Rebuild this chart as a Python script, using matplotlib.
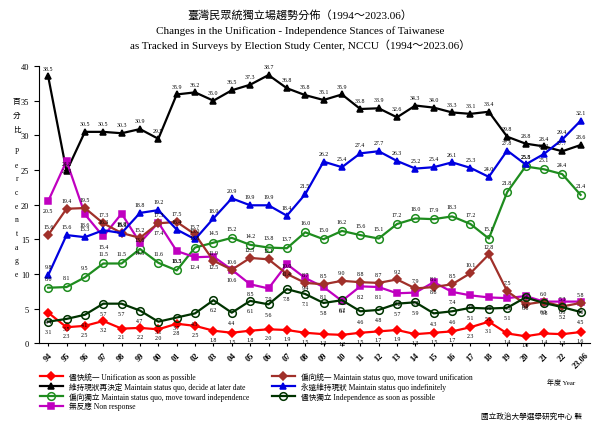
import numpy as np
import matplotlib.pyplot as plt

plt.rcParams["font.family"] = ["Liberation Serif", "Noto Sans CJK TC"]

years = ["94", "95", "96", "97", "98", "99", "00", "01", "02", "03", "04", "05", "06", "07", "08",
         "09", "10", "11", "12", "13", "14", "15", "16", "17", "18", "19", "20", "21", "22", "23.06"]

unif_asap = [4.4, 2.3, 2.5, 3.2, 2.1, 2.2, 2.0, 2.8, 2.5, 1.8, 1.5, 1.8, 2.0, 1.9, 1.5,
             1.3, 1.2, 1.5, 1.7, 1.9, 1.3, 1.5, 1.7, 2.3, 3.1, 1.4, 1.0, 1.4, 1.3, 1.6]
toward_unif = [15.6, 19.4, 19.5, 17.3, 15.9, 15.2, 17.3, 17.5, 15.7, 11.9, 10.6, 12.3, 12.1, 10.0, 8.7,
               8.5, 9.0, 8.8, 8.7, 9.2, 7.9, 8.1, 8.5, 10.1, 12.8, 7.5, 5.6, 6.0, 5.3, 5.8]
decide_later = [38.5, 24.8, 30.5, 30.5, 30.3, 30.9, 29.5, 35.9, 36.2, 35.0, 36.5, 37.3, 38.7, 36.8, 35.8,
                35.1, 35.9, 33.8, 33.9, 32.6, 34.3, 34.0, 33.3, 33.1, 33.4, 29.8, 28.8, 28.4, 27.7, 28.6]
indefinitely = [9.8, 15.6, 15.3, 16.3, 15.9, 18.8, 19.2, 16.4, 15.0, 18.0, 20.9, 19.9, 19.9, 18.4, 21.5,
                26.2, 25.4, 27.4, 27.7, 26.3, 25.2, 25.4, 26.1, 25.3, 24.0, 27.8, 25.8, 27.3, 29.4, 32.1]
toward_indep = [8.0, 8.1, 9.5, 11.5, 11.5, 13.6, 11.6, 10.5, 13.8, 14.5, 15.2, 14.2, 13.8, 13.7, 16.0,
                15.0, 16.2, 15.6, 15.1, 17.2, 18.0, 17.9, 18.3, 17.2, 15.1, 21.8, 25.5, 25.1, 24.4, 21.4]
indep_asap = [3.1, 3.5, 4.1, 5.7, 5.7, 4.7, 3.1, 3.7, 4.3, 6.2, 4.4, 6.1, 5.6, 7.8, 7.1,
              5.8, 6.2, 4.6, 4.8, 5.7, 5.9, 4.3, 4.6, 5.1, 5.0, 5.1, 6.6, 5.8, 5.2, 4.5]
non_resp = [20.5, 26.3, 18.6, 15.4, 18.7, 14.5, 17.4, 13.3, 12.4, 12.5, 10.6, 8.5, 7.9, 11.4, 9.4,
            8.1, 6.1, 8.2, 8.1, 7.2, 7.3, 8.8, 7.4, 6.9, 6.6, 6.5, 6.8, 6.0, 6.0, 6.0]

# label, values, color, marker, filled, label offset (pt)
series = [
    ("儘快統一 Unification as soon as possible", unif_asap, "#ff0000", "D", True, -6),
    ("維持現狀再決定 Maintain status quo, decide at later date", decide_later, "black", "^", True, 6),
    ("偏向獨立 Maintain status quo, move toward independence", toward_indep, "#1e8c1e", "o", False, 7),
    ("無反應 Non response", non_resp, "#c000c0", "s", True, -7),
    ("偏向統一 Maintain status quo, move toward unification", toward_unif, "#a0302a", "D", True, 6),
    ("永遠維持現狀 Maintain status quo indefinitely", indefinitely, "#0000e0", "^", True, 6),
    ("儘快獨立 Independence as soon as possible", indep_asap, "#003300", "o", False, -7),
]

fig = plt.figure(figsize=(6, 4.27), dpi=100)
ax = fig.add_axes([0.065, 0.194, 0.918, 0.649])
x = np.arange(len(years))

for lab, vals, col, mk, filled, off in series:
    ax.plot(x, vals, color=col, lw=1.6, marker=mk, ms=5.5 if mk == "o" else 4.2,
            mfc=col if filled else "none", mec=col, mew=1.1, label=lab)
    for xi, v in zip(x, vals):
        ax.annotate(f"{v:.1f}", (xi, v), xytext=(0, off), textcoords="offset points",
                    ha="center", va="center", fontsize=4.2)

ax.set_xlim(-0.5, 29.5)
ax.set_ylim(0, 40)
ax.set_yticks(range(0, 41, 5))
ax.set_xticks(x)
ax.set_xticklabels(years, rotation=45, fontsize=6, fontweight="bold")
ax.tick_params(axis="y", labelsize=6)
ax.tick_params(axis="x", length=2)
for sp in ["top", "right"]:
    ax.spines[sp].set_visible(False)

fig.text(0.5, 0.965, "臺灣民眾統獨立場趨勢分佈（1994～2023.06）", ha="center", va="center", fontsize=8)
fig.text(0.5, 0.928, "Changes in the Unification - Independence Stances of Taiwanese", ha="center", va="center", fontsize=8)
fig.text(0.5, 0.893, "as Tracked in Surveys by Election Study Center, NCCU（1994～2023.06）", ha="center", va="center", fontsize=8)

ylab = "百分比 Percentage"
chars = [c for c in ylab if c != " "]
for i, c in enumerate(chars):
    fig.text(0.028, 0.76 - i * 0.032 - (0.02 if i >= 3 else 0), c, ha="center", va="center", fontsize=5.5)

leg = fig.legend(loc="upper left", bbox_to_anchor=(0.06, 0.135), ncol=2, frameon=False,
                 fontsize=5.5, handlelength=3, labelspacing=0.15, columnspacing=3, borderpad=0)
fig.text(0.935, 0.105, "年度 Year", ha="center", va="center", fontsize=5)
fig.text(0.97, 0.025, "國立政治大學選舉研究中心 製", ha="right", va="center", fontsize=5.5)

fig.savefig("out.png", dpi=100)
